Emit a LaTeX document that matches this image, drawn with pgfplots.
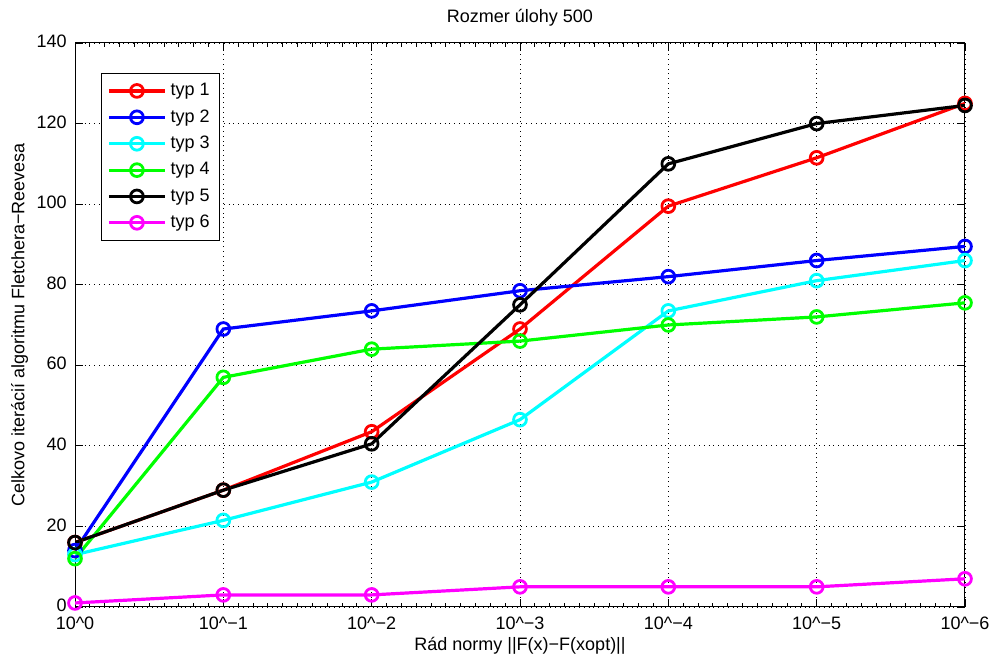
\documentclass[border=0pt]{standalone}
\usepackage{pgfplots}
\pgfplotsset{compat=1.18}
\usepackage{fontspec}
\setmainfont{Liberation Sans}
\definecolor{mred}{rgb}{1,0,0}
\definecolor{mblue}{rgb}{0,0,1}
\definecolor{mcyan}{rgb}{0,1,1}
\definecolor{mgreen}{rgb}{0,1,0}
\definecolor{mmag}{rgb}{1,0,1}
\begin{document}
\fontsize{9}{10.8}\selectfont
\begin{tikzpicture}
\begin{axis}[
  scale only axis,
  width=445pt, height=282pt,
  xmin=0, xmax=6, ymin=0, ymax=140,
  xtick={0,1,2,3,4,5,6},
  xticklabels={10\^{}0,10\^{}−1,10\^{}−2,10\^{}−3,10\^{}−4,10\^{}−5,10\^{}−6},
  ytick={0,20,40,60,80,100,120,140},
  minor x tick num=9,
  /pgf/number format/assume math mode=true,
  tick label style={font=\fontsize{9}{10.8}\selectfont},
  label style={font=\fontsize{9}{10.8}\selectfont},
  title style={font=\fontsize{9}{10.8}\selectfont, yshift=-1pt},
  yticklabel style={xshift=-1pt, yshift=0.8pt},
  xticklabel style={yshift=-2pt},
  tick align=inside,
  major tick length=4pt,
  minor tick length=2pt,
  tick style={black, line width=0.4pt},
  axis line style={black, line width=0.5pt},
  grid=major,
  major grid style={black, dotted, line width=0.4pt},
  title={Rozmer úlohy 500},
  xlabel={Rád normy ||F(x)−F(xopt)||},
  ylabel={Celkovo iterácií algoritmu Fletchera−Reevesa},
  xlabel style={yshift=2.5pt},
  ylabel style={yshift=-2pt},
  every axis plot/.append style={line width=1.6pt, mark=o, mark size=3.2pt, mark options={solid, line width=1.4pt}},
  legend cell align=left,
  legend style={at={(0.029,0.947)}, anchor=north west, draw=black, line width=0.5pt,
    font=\fontsize{9}{10.8}\selectfont, row sep=1.6pt, inner xsep=3pt, inner ysep=3pt},
  legend image code/.code={
    \draw[#1, mark=none] (0pt,0pt) -- (28pt,0pt);
    \draw[#1, only marks] plot coordinates {(14pt,0pt)};
  },
]
\addplot[color=mred] coordinates {(0,16) (1,29) (2,43.5) (3,69) (4,99.5) (5,111.5) (6,125)};
\addlegendentry{typ 1}
\addplot[color=mblue] coordinates {(0,14) (1,69) (2,73.5) (3,78.5) (4,82) (5,86) (6,89.5)};
\addlegendentry{typ 2}
\addplot[color=mcyan] coordinates {(0,13) (1,21.5) (2,31) (3,46.5) (4,73.5) (5,81) (6,86)};
\addlegendentry{typ 3}
\addplot[color=mgreen] coordinates {(0,12) (1,57) (2,64) (3,66) (4,70) (5,72) (6,75.5)};
\addlegendentry{typ 4}
\addplot[color=black] coordinates {(0,16) (1,29) (2,40.5) (3,75) (4,110) (5,120) (6,124.5)};
\addlegendentry{typ 5}
\addplot[color=mmag] coordinates {(0,1) (1,3) (2,3) (3,5) (4,5) (5,5) (6,7)};
\addlegendentry{typ 6}
\end{axis}
\pgfresetboundingbox
\path[use as bounding box] (-37.5pt,-24.5pt) rectangle (457.5pt,303.5pt);
\end{tikzpicture}
\end{document}
